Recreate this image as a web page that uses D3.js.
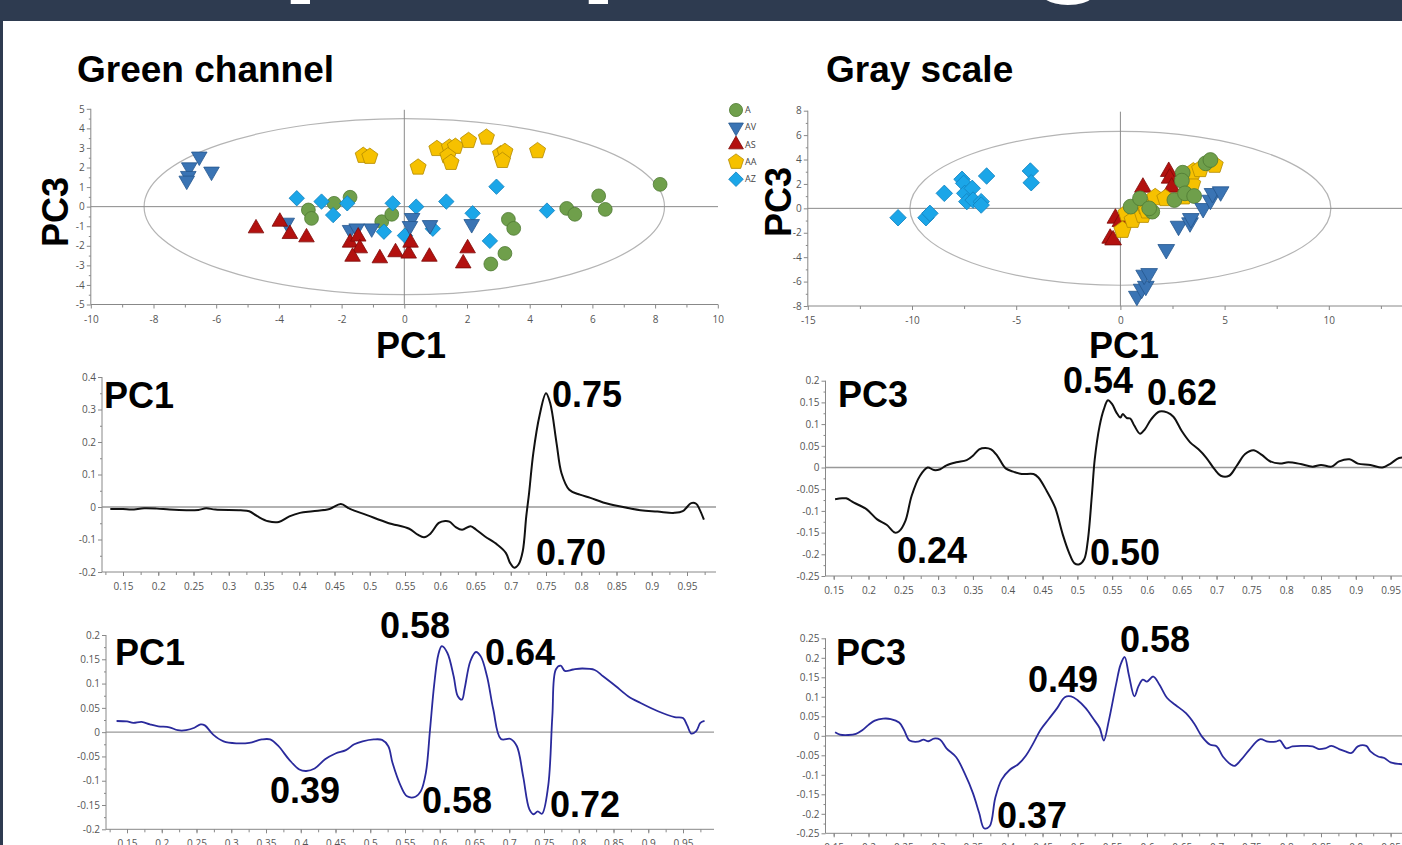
<!DOCTYPE html>
<html><head><meta charset="utf-8">
<script src="https://cdn.jsdelivr.net/npm/d3@7"></script>
<style>
html,body{margin:0;padding:0;background:#fff;overflow:hidden;}
svg{display:block;}
text{font-family:"Liberation Sans",Arial,Helvetica,sans-serif;}
</style></head><body>
<svg id="c" width="1402" height="845"></svg>
<script>
// ---------------- DATA ----------------
const groupNames = ["A", "AV", "AS", "AA", "AZ"];

// Green channel score plot (PC1, PC3)
const greenA  = [[-3.06,-0.17],[-2.96,-0.6],[-2.24,0.17],[-1.73,0.48],[-0.72,-0.77],[-0.40,-0.39],[3.32,-0.65],[3.49,-1.11],[3.21,-2.39],[2.76,-2.93],[5.18,-0.09],[5.44,-0.39],[6.2,0.55],[6.41,-0.14],[8.16,1.14]];
const greenAV = [[-6.54,2.56],[-6.86,2.01],[-6.15,1.79],[-6.89,1.57],[-6.94,1.33],[-3.75,-0.82],[-1.73,-1.19],[-1.52,-1.11],[-1.04,-1.11],[0.25,-0.58],[0.18,-0.99],[0.82,-0.94],[2.15,-0.89]];
const greenAS = [[-4.73,-1.11],[-3.97,-0.77],[-3.65,-1.40],[-3.12,-1.57],[-1.73,-1.84],[-1.47,-1.53],[-1.42,-2.13],[-1.65,-2.56],[-0.78,-2.64],[-0.28,-2.33],[0.14,-2.40],[0.2,-1.84],[0.8,-2.56],[2.02,-2.13],[1.88,-2.90]];
const greenAA = [[-1.31,2.61],[-1.10,2.56],[0.44,2.01],[1.04,2.96],[1.44,3.03],[1.63,3.07],[1.39,2.59],[1.49,2.25],[2.05,3.37],[2.62,3.54],[3.07,2.69],[3.21,2.81],[3.13,2.35],[4.25,2.85]];
const greenAZ = [[-3.43,0.43],[-2.64,0.26],[-2.27,-0.43],[-1.82,0.17],[-0.65,-1.28],[-0.37,0.17],[0.02,-1.48],[0.38,0.0],[0.91,-1.13],[1.34,0.26],[2.18,-0.34],[2.94,1.02],[2.73,-1.75],[4.55,-0.2]];
const greenEllipse = [8.3, 4.5];

// Gray scale score plot (PC1, PC3)
const grayA  = [[0.49,0.14],[0.94,0.82],[1.53,-0.27],[1.38,0.0],[2.59,0.68],[2.99,2.92],[2.95,2.27],[3.10,1.23],[3.54,1.01],[4.09,3.69],[4.32,3.96]];
const grayAV = [[0.79,-7.19],[1.02,-6.61],[1.22,-6.37],[1.14,-5.46],[1.38,-5.33],[2.20,-3.36],[2.79,-1.45],[3.34,-1.17],[3.38,-0.82],[3.97,0.0],[4.32,0.68],[4.42,1.23],[4.81,1.37]];
const grayAS = [[-0.49,-2.46],[-0.35,-2.60],[-0.24,-0.82],[0.0,-1.09],[1.08,1.72],[2.32,3.01],[2.36,2.46],[2.46,1.72]];
const grayAA = [[0.10,-1.78],[0.29,-0.41],[0.59,-0.96],[1.08,-0.55],[1.18,0.14],[1.28,-0.19],[1.67,0.90],[2.16,0.82],[3.05,0.96],[3.44,1.99],[3.50,3.01],[3.83,3.20],[4.52,3.55]];
const grayAZ = [[-10.67,-0.77],[-9.33,-0.77],[-9.14,-0.41],[-8.45,1.23],[-7.60,2.38],[-7.52,2.05],[-7.47,1.23],[-7.37,0.55],[-7.11,1.64],[-7.07,0.68],[-6.68,0.55],[-6.68,0.27],[-6.42,2.65],[-4.32,3.06],[-4.28,2.10]];
const grayEllipse = [10.1, 6.3];

// Score-plot tick labels
const greenXTicks = [-10,-8,-6,-4,-2,0,2,4,6,8,10];
const greenYTicks = [-5,-4,-3,-2,-1,0,1,2,3,4,5];
const grayXTicks = [-15,-10,-5,0,5,10];
const grayYTicks = [-8,-6,-4,-2,0,2,4,6,8];

// Loading plots
const loadXTicks = [0.15,0.2,0.25,0.3,0.35,0.4,0.45,0.5,0.55,0.6,0.65,0.7,0.75,0.8,0.85,0.9,0.95];

const greenPC1Black = [[0.132,-0.006],[0.15,-0.006],[0.162,-0.008],[0.18,-0.004],[0.198,-0.005],[0.216,-0.008],[0.24,-0.01],[0.257,-0.009],[0.268,-0.004],[0.281,-0.008],[0.317,-0.01],[0.329,-0.013],[0.341,-0.029],[0.356,-0.044],[0.371,-0.046],[0.386,-0.029],[0.401,-0.018],[0.419,-0.013],[0.443,-0.006],[0.459,0.009],[0.472,-0.006],[0.496,-0.025],[0.526,-0.049],[0.556,-0.067],[0.568,-0.085],[0.577,-0.093],[0.586,-0.082],[0.598,-0.049],[0.607,-0.043],[0.613,-0.045],[0.622,-0.062],[0.631,-0.07],[0.643,-0.059],[0.651,-0.07],[0.663,-0.09],[0.681,-0.116],[0.693,-0.141],[0.699,-0.172],[0.705,-0.187],[0.711,-0.177],[0.717,-0.136],[0.722,-0.029],[0.726,0.043],[0.732,0.166],[0.741,0.283],[0.75,0.35],[0.756,0.319],[0.765,0.196],[0.772,0.104],[0.783,0.053],[0.798,0.038],[0.813,0.028],[0.831,0.014],[0.854,0.002],[0.884,-0.01],[0.908,-0.014],[0.932,-0.018],[0.944,-0.013],[0.956,0.012],[0.963,0.01],[0.968,-0.008],[0.974,-0.039]];
const grayPC3Black = [[0.152,-0.073],[0.162,-0.071],[0.168,-0.071],[0.179,-0.081],[0.197,-0.096],[0.212,-0.119],[0.226,-0.132],[0.238,-0.150],[0.244,-0.147],[0.253,-0.123],[0.262,-0.065],[0.274,-0.019],[0.285,0.0],[0.294,-0.006],[0.303,-0.004],[0.312,0.005],[0.326,0.012],[0.341,0.017],[0.35,0.027],[0.359,0.042],[0.368,0.045],[0.376,0.042],[0.385,0.027],[0.397,-0.002],[0.409,-0.01],[0.42,-0.015],[0.437,-0.015],[0.444,-0.023],[0.456,-0.054],[0.468,-0.092],[0.479,-0.154],[0.488,-0.196],[0.496,-0.221],[0.503,-0.223],[0.51,-0.211],[0.515,-0.169],[0.521,-0.061],[0.525,0.019],[0.532,0.096],[0.538,0.134],[0.544,0.155],[0.55,0.146],[0.556,0.127],[0.562,0.115],[0.565,0.123],[0.571,0.114],[0.576,0.113],[0.582,0.096],[0.59,0.078],[0.597,0.088],[0.606,0.111],[0.618,0.129],[0.629,0.127],[0.638,0.117],[0.65,0.084],[0.662,0.058],[0.674,0.042],[0.685,0.023],[0.697,-0.004],[0.706,-0.019],[0.718,-0.019],[0.729,0.004],[0.741,0.031],[0.753,0.040],[0.765,0.029],[0.776,0.015],[0.791,0.009],[0.803,0.012],[0.821,0.008],[0.838,0.002],[0.85,0.006],[0.865,0.002],[0.876,0.014],[0.891,0.019],[0.903,0.009],[0.921,0.006],[0.938,0.0],[0.95,0.009],[0.962,0.022],[0.975,0.022]];
const greenPC1Blue = [[0.135,0.023],[0.15,0.022],[0.159,0.019],[0.171,0.021],[0.183,0.016],[0.195,0.012],[0.211,0.010],[0.223,0.004],[0.235,0.004],[0.247,0.009],[0.256,0.016],[0.262,0.014],[0.274,-0.005],[0.289,-0.019],[0.308,-0.023],[0.326,-0.022],[0.344,-0.015],[0.356,-0.015],[0.368,-0.029],[0.383,-0.056],[0.398,-0.077],[0.408,-0.080],[0.42,-0.075],[0.435,-0.056],[0.45,-0.044],[0.465,-0.037],[0.477,-0.025],[0.489,-0.019],[0.505,-0.015],[0.517,-0.016],[0.526,-0.029],[0.532,-0.063],[0.544,-0.111],[0.553,-0.132],[0.565,-0.133],[0.573,-0.121],[0.580,-0.084],[0.586,0.005],[0.592,0.098],[0.598,0.160],[0.603,0.177],[0.611,0.163],[0.62,0.115],[0.626,0.074],[0.632,0.067],[0.636,0.091],[0.644,0.146],[0.652,0.165],[0.659,0.156],[0.668,0.115],[0.677,0.047],[0.688,-0.014],[0.702,-0.014],[0.711,-0.029],[0.72,-0.091],[0.729,-0.159],[0.735,-0.169],[0.741,-0.163],[0.747,-0.168],[0.756,-0.111],[0.762,0.033],[0.767,0.129],[0.774,0.137],[0.780,0.126],[0.792,0.129],[0.805,0.131],[0.823,0.128],[0.835,0.115],[0.853,0.095],[0.871,0.074],[0.889,0.060],[0.914,0.043],[0.938,0.031],[0.95,0.029],[0.956,0.014],[0.962,-0.003],[0.969,0.002],[0.975,0.019],[0.981,0.023]];
const grayPC3Blue = [[0.152,0.009],[0.159,0.003],[0.171,0.002],[0.182,0.005],[0.191,0.014],[0.2,0.028],[0.209,0.039],[0.221,0.044],[0.232,0.043],[0.244,0.034],[0.251,0.015],[0.259,-0.012],[0.271,-0.015],[0.279,-0.010],[0.286,-0.014],[0.294,-0.007],[0.303,-0.010],[0.312,-0.032],[0.326,-0.055],[0.338,-0.096],[0.35,-0.147],[0.359,-0.198],[0.366,-0.237],[0.374,-0.232],[0.382,-0.160],[0.391,-0.113],[0.403,-0.087],[0.415,-0.073],[0.426,-0.051],[0.438,-0.015],[0.447,0.015],[0.459,0.043],[0.471,0.071],[0.482,0.099],[0.491,0.101],[0.5,0.092],[0.512,0.071],[0.524,0.041],[0.532,0.020],[0.538,-0.012],[0.545,0.037],[0.556,0.135],[0.562,0.182],[0.568,0.202],[0.574,0.156],[0.582,0.101],[0.588,0.128],[0.594,0.144],[0.6,0.139],[0.609,0.152],[0.618,0.131],[0.629,0.097],[0.641,0.079],[0.656,0.058],[0.668,0.031],[0.679,-0.002],[0.691,-0.023],[0.7,-0.027],[0.709,-0.053],[0.721,-0.074],[0.726,-0.077],[0.735,-0.062],[0.747,-0.036],[0.762,-0.009],[0.774,-0.015],[0.785,-0.015],[0.791,-0.012],[0.8,-0.032],[0.809,-0.027],[0.826,-0.026],[0.838,-0.027],[0.847,-0.034],[0.856,-0.032],[0.865,-0.026],[0.876,-0.034],[0.885,-0.04],[0.894,-0.044],[0.903,-0.027],[0.915,-0.026],[0.921,-0.040],[0.932,-0.053],[0.941,-0.057],[0.95,-0.068],[0.975,-0.074]];

const ticksPC1a = [-0.2,-0.1,0,0.1,0.2,0.3,0.4];
const ticksPC3a = [-0.25,-0.2,-0.15,-0.1,-0.05,0,0.05,0.1,0.15,0.2];
const ticksPC1b = [-0.2,-0.15,-0.1,-0.05,0,0.05,0.1,0.15,0.2];
const ticksPC3b = [-0.25,-0.2,-0.15,-0.1,-0.05,0,0.05,0.1,0.15,0.2,0.25];

const labelsPC1a = ["PC1","0.75","0.70"];
const labelsPC3a = ["PC3","0.54","0.62","0.24","0.50"];
const labelsPC1b = ["PC1","0.58","0.64","0.39","0.58","0.72"];
const labelsPC3b = ["PC3","0.58","0.49","0.37"];

// ---------------- DRAWING ----------------
const svg = d3.select("#c");
const W = 1402, H = 845;
svg.append("rect").attr("width",W).attr("height",H).attr("fill","#fff");
const defs = svg.append("defs");
defs.append("clipPath").attr("id","hdrclip").append("rect").attr("x",0).attr("y",0).attr("width",W).attr("height",21);
defs.append("clipPath").attr("id","legclip").append("rect").attr("x",720).attr("y",95).attr("width",37).attr("height",100);

// header band with cropped big title
svg.append("rect").attr("x",0).attr("y",0).attr("width",W).attr("height",21).attr("fill","#2e3b50");
svg.append("rect").attr("x",0).attr("y",0).attr("width",3).attr("height",H).attr("fill","#2e3b50");
const hdr = svg.append("g").attr("clip-path","url(#hdrclip)");
[["p",281],["p",579],["g",1027]].forEach(([t,x0]) => {
  hdr.append("text").attr("x",x0).attr("y",-25).attr("font-size",140).attr("font-weight","bold").attr("fill","#fff").text(t);
});

const NAVY = "#111";
function styleAxis(sel){
  sel.selectAll(".domain").remove();
  sel.selectAll(".tick line").attr("stroke","#888");
  sel.selectAll(".tick text").attr("fill","#555")
    .style("font-family","'Open Sans','DejaVu Sans',sans-serif").style("font-size","10px");
}

const symbolPentagon = { draw(ctx, size){ const r = Math.sqrt(size/2.378);
  for(let i=0;i<5;i++){ const a=-Math.PI/2+i*2*Math.PI/5; const px=r*Math.cos(a), py=r*Math.sin(a); if(i) ctx.lineTo(px,py); else ctx.moveTo(px,py);} ctx.closePath(); } };

const styles = {
  A:  {type:d3.symbolCircle, size:150, fill:"#6f9f4b", stroke:"#4f7a33", rot:""},
  AV: {type:d3.symbolTriangle, size:105, fill:"#3a74b4", stroke:"#25578e", rot:" rotate(180)"},
  AS: {type:d3.symbolTriangle, size:105, fill:"#b3110f", stroke:"#7d0a08", rot:""},
  AA: {type:symbolPentagon, size:170, fill:"#f6c100", stroke:"#b38a00", rot:""},
  AZ: {type:d3.symbolSquare, size:118, fill:"#1ba6e8", stroke:"#1383c0", rot:" rotate(45)"}
};

function scatterPanel(c){
  const x = d3.scaleLinear().domain(c.xd).range(c.xr);
  const y = d3.scaleLinear().domain(c.yd).range(c.yr);
  const g = svg.append("g");
  const x0 = x(c.xd[0]), yb = y(c.yd[0]), yt = y(c.yd[1]);
  g.append("ellipse").attr("cx",x(0)).attr("cy",y(0)).attr("rx",x(c.ell[0])-x(0)).attr("ry",y(0)-y(c.ell[1]))
    .attr("fill","none").attr("stroke","#b4b4b4").attr("stroke-width",1.2);
  g.append("line").attr("x1",x0).attr("x2",c.xEnd).attr("y1",y(0)).attr("y2",y(0)).attr("stroke","#8a8a8a").attr("stroke-width",1);
  g.append("line").attr("x1",x(0)).attr("x2",x(0)).attr("y1",yt+1).attr("y2",yb).attr("stroke","#8a8a8a").attr("stroke-width",1);
  g.append("line").attr("x1",x0).attr("x2",x0).attr("y1",yt).attr("y2",yb).attr("stroke","#888");
  g.append("line").attr("x1",x0).attr("x2",c.xEnd).attr("y1",yb).attr("y2",yb).attr("stroke","#888");
  g.append("g").attr("transform",`translate(${x0},0)`).call(d3.axisLeft(y).tickValues(c.yt).tickFormat(d=>String(d)).tickSize(4).tickPadding(2)).call(styleAxis);
  g.append("g").attr("transform",`translate(${x0},0)`).call(d3.axisLeft(y).tickValues(c.ytm).tickFormat("").tickSize(2)).call(styleAxis);
  g.append("g").attr("transform",`translate(0,${yb})`).call(d3.axisBottom(x).tickValues(c.xt).tickFormat(d=>String(d)).tickSize(4).tickPadding(7)).call(styleAxis);
  g.append("g").attr("transform",`translate(0,${yb})`).call(d3.axisBottom(x).tickValues(c.xtm).tickFormat("").tickSize(3)).call(styleAxis);
  c.groups.forEach(([name,data]) => {
    const s = styles[name];
    const sym = d3.symbol().type(s.type).size(s.size*c.k);
    g.append("g").selectAll("path").data(data).join("path")
      .attr("d", sym).attr("transform", d => `translate(${x(d[0])},${y(d[1])})${s.rot}`)
      .attr("fill", s.fill).attr("stroke", s.stroke).attr("stroke-width", 0.8);
  });
  return {x,y,g};
}

const pA = scatterPanel({xd:[-10,10], xr:[90.8,717.8], yd:[-5,5], yr:[304.5,108.8], xEnd:718, ell:greenEllipse,
  xt:greenXTicks, xtm:d3.range(-9,10,2), yt:greenYTicks, ytm:d3.range(-4.5,5,1), k:1,
  groups:[["A",greenA],["AZ",greenAZ],["AV",greenAV],["AS",greenAS],["AA",greenAA]]});
const pB = scatterPanel({xd:[-15,10], xr:[807.8,1328.8], yd:[-8,8], yr:[306,110.7], xEnd:1402, ell:grayEllipse,
  xt:grayXTicks, xtm:[-12.5,-7.5,-2.5,2.5,7.5,12.5], yt:grayYTicks, ytm:d3.range(-7,8,2), k:1.15,
  groups:[["AZ",grayAZ],["AS",grayAS],["AA",grayAA],["A",grayA],["AV",grayAV]]});

// legend (green channel)
const leg = svg.append("g");
groupNames.forEach((n,i) => {
  const s = styles[n];
  const yy = 110 + i*17.3;
  leg.append("path").attr("d", d3.symbol().type(s.type).size(s.size*0.9)).attr("transform",`translate(736,${yy})${s.rot}`)
    .attr("fill",s.fill).attr("stroke",s.stroke).attr("stroke-width",0.8);
  leg.append("text").attr("clip-path","url(#legclip)").attr("x",745).attr("y",yy+3).attr("font-size",9)
    .style("font-family","'Open Sans','DejaVu Sans',sans-serif").attr("fill","#444").text(n);
});

// titles & axis names
function bigText(x0,y0,t,size,anchor,rot){
  const el = svg.append("text").attr("font-weight","bold").attr("font-size",size).attr("fill","#000").text(t);
  if(rot){ el.attr("transform",`translate(${x0},${y0}) rotate(-90)`).attr("text-anchor","middle"); }
  else { el.attr("x",x0).attr("y",y0).attr("text-anchor",anchor||"start"); }
  return el;
}
bigText(77,82,"Green channel",37);
bigText(826,82,"Gray scale",37);
bigText(68,212,"PC3",36,null,true);
bigText(791,202,"PC3",36,null,true);
bigText(411,358,"PC1",36,"middle");
bigText(1124,358,"PC1",36,"middle");

// loading plots
function linePanel(c){
  const x = d3.scaleLinear().domain([0.15,0.95]).range(c.xr);
  const y = d3.scaleLinear().domain(c.yd).range(c.yr);
  const g = svg.append("g");
  const yb = y(c.yd[0]), yt = y(c.yd[1]);
  g.append("line").attr("x1",c.axisX).attr("x2",c.xEnd).attr("y1",y(0)).attr("y2",y(0)).attr("stroke","#999").attr("stroke-width",1.3);
  g.append("line").attr("x1",c.axisX).attr("x2",c.axisX).attr("y1",yt).attr("y2",yb).attr("stroke","#888");
  g.append("line").attr("x1",c.axisX).attr("x2",c.xEnd).attr("y1",yb).attr("y2",yb).attr("stroke","#888");
  g.append("g").attr("transform",`translate(0,${yb})`).call(d3.axisBottom(x).tickValues(loadXTicks).tickFormat(d=>String(d)).tickSize(4).tickPadding(7)).call(styleAxis);
  const minor = d3.range(0.125,0.99,0.025).filter(v => x(v) > c.axisX+1 && x(v) < c.xEnd-1);
  g.append("g").attr("transform",`translate(0,${yb})`).call(d3.axisBottom(x).tickValues(minor).tickFormat("").tickSize(3)).call(styleAxis);
  g.append("g").attr("transform",`translate(${c.axisX},0)`).call(d3.axisLeft(y).tickValues(c.yt).tickFormat(d=>String(d)).tickSize(4).tickPadding(2)).call(styleAxis);
  g.append("g").attr("transform",`translate(${c.axisX},0)`).call(d3.axisLeft(y).tickValues(c.ytm).tickFormat("").tickSize(2)).call(styleAxis);
  g.append("path").datum(c.data)
    .attr("d", d3.line().x(d=>x(d[0])).y(d=>y(d[1])).curve(d3.curveCatmullRom.alpha(0.5)))
    .attr("fill","none").attr("stroke",c.color).attr("stroke-width",c.w).attr("stroke-linejoin","round");
  c.labels.forEach((t,i) => bigText(c.pos[i][0], c.pos[i][1], t, 36));
}

linePanel({xr:[123,687], yd:[-0.2,0.4], yr:[572,377], axisX:102, xEnd:716, yt:ticksPC1a, ytm:d3.range(-0.15,0.4,0.1),
  data:greenPC1Black, color:"#111", w:2, labels:labelsPC1a, pos:[[104,408],[552,407],[536,565]]});
linePanel({xr:[833.7,1390.6], yd:[-0.25,0.2], yr:[576,380.7], axisX:825.5, xEnd:1402, yt:ticksPC3a, ytm:d3.range(-0.225,0.2,0.05),
  data:grayPC3Black, color:"#111", w:2, labels:labelsPC3a, pos:[[838,407],[1063,393],[1147,405],[897,563],[1090,565]]});
linePanel({xr:[127,683], yd:[-0.2,0.2], yr:[829.3,635], axisX:106, xEnd:714, yt:ticksPC1b, ytm:d3.range(-0.175,0.2,0.05),
  data:greenPC1Blue, color:"#2a2a9c", w:1.8, labels:labelsPC1b, pos:[[115,665],[380,638],[485,665],[270,803],[422,813],[550,817]]});
linePanel({xr:[833.7,1390.6], yd:[-0.25,0.25], yr:[833.3,638.3], axisX:825.5, xEnd:1402, yt:ticksPC3b, ytm:d3.range(-0.225,0.25,0.05),
  data:grayPC3Blue, color:"#2a2a9c", w:1.8, labels:labelsPC3b, pos:[[836,665],[1120,652],[1028,692],[997,828]]});
</script>
</body></html>
